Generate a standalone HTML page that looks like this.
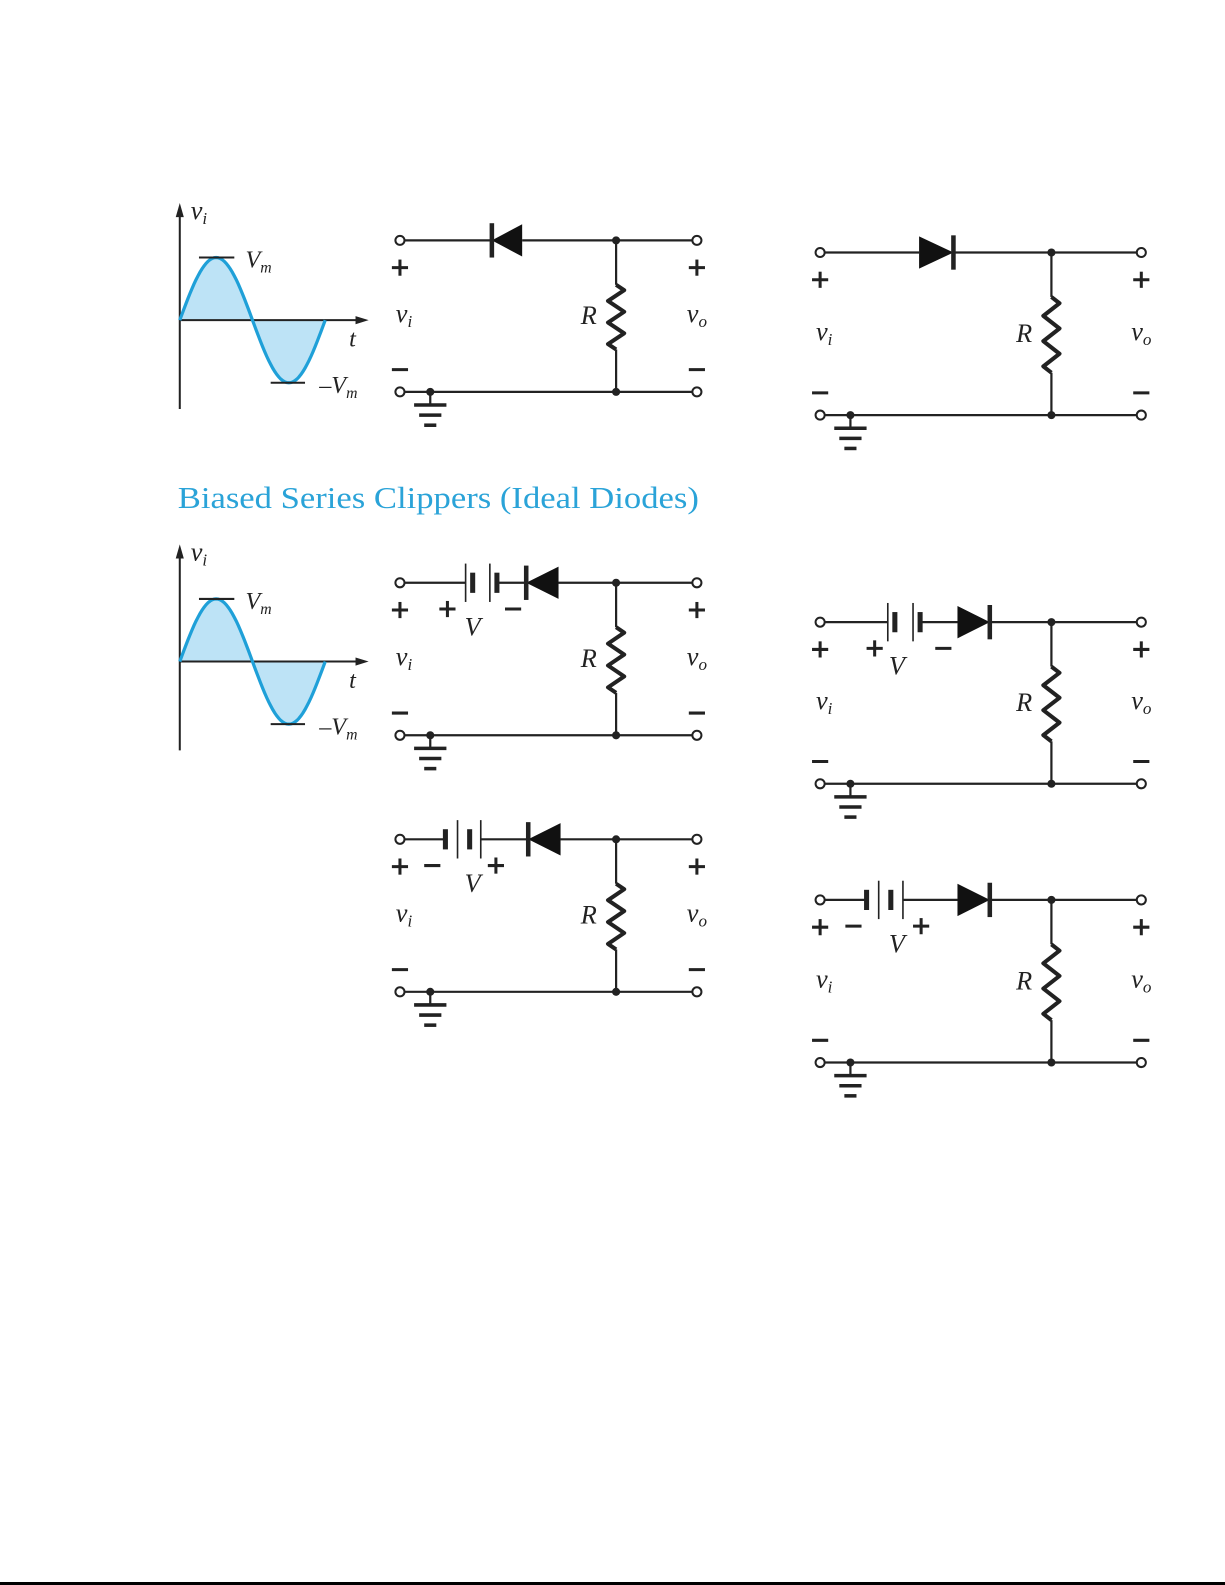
<!DOCTYPE html>
<html><head><meta charset="utf-8">
<style>
html,body{margin:0;padding:0;background:#fff;width:1225px;height:1585px;overflow:hidden}
svg{display:block}
text{font-family:"Liberation Serif",serif;fill:#222}
.it{font-style:italic}
</style></head>
<body>
<svg id="s" width="1225" height="1585" viewBox="0 0 1225 1585" xmlns="http://www.w3.org/2000/svg">
<rect x="0" y="1582" width="1225" height="3" fill="#000"/>
<g id="g" transform="scale(1.01)">
<text x="176" y="503" font-size="30" fill="#2aa3d8" style="fill:#2aa3d8" textLength="516" lengthAdjust="spacingAndGlyphs">Biased Series Clippers (Ideal Diodes)</text>
</g>
</svg>
<script>
var g=document.getElementById('g'),NS='http://www.w3.org/2000/svg';
function el(t,a,txt){var e=document.createElementNS(NS,t);for(var k in a)e.setAttribute(k,a[k]);if(txt!=null)e.textContent=txt;g.appendChild(e);return e;}
function line(x1,y1,x2,y2,w){el('line',{x1:x1,y1:y1,x2:x2,y2:y2,stroke:'#222','stroke-width':w||2.2});}
function txt(x,y,s,size,cls,anchor){return el('text',{x:x,y:y,'font-size':size||24,'class':cls||'','text-anchor':anchor||'middle'},s);}
function pm(x,y,plus){line(x-8,y,x+8,y,3);if(plus)line(x,y-8,x,y+8,3);}
function sub(x,y,main,s,size){var t=el('text',{x:x,y:y,'font-size':size||26,'class':'it','text-anchor':'middle'});
 var a=document.createElementNS(NS,'tspan');a.textContent=main;t.appendChild(a);
 var b=document.createElementNS(NS,'tspan');b.setAttribute('font-size',(size||26)*0.65);b.setAttribute('dy','5');b.textContent=s;t.appendChild(b);}
function wave(y0){
 var x0=178;
 line(x0,y0+88,x0,y0-110,2);el('polygon',{points:(x0-4)+','+(y0-102)+' '+(x0+4)+','+(y0-102)+' '+x0+','+(y0-116),fill:'#222'});
 var d='M'+x0+' '+y0;for(var i=0;i<=144;i+=2){d+=' L'+(x0+i)+' '+(y0-62*Math.sin(i/144*2*Math.PI)).toFixed(1);}
 el('path',{d:d+' Z',fill:'#bde3f6',stroke:'none'});
 line(x0,y0,358,y0,2);el('polygon',{points:'352,'+(y0-4)+' 352,'+(y0+4)+' 365,'+y0,fill:'#222'});
 el('path',{d:d,fill:'none',stroke:'#1fa0d8','stroke-width':3.2});
 line(197,y0-62,232,y0-62,2);line(268,y0+62,302,y0+62,2);
 sub(197,y0-100,'v','i',26);sub(256,y0-52,'V','m',24);sub(335,y0+72,'\u2013V','m',24);
 txt(349,y0+26,'t',24,'it');
}
function diode(x1,x2,y,right){ // x1<x2
 if(right){el('polygon',{points:x1+','+(y-16)+' '+x1+','+(y+16)+' '+x2+','+y,fill:'#111'});line(x2,y-17,x2,y+17,4.5);}
 else{el('polygon',{points:x2+','+(y-16)+' '+x2+','+(y+16)+' '+x1+','+y,fill:'#111'});line(x1,y-17,x1,y+17,4.5);}
}
function circ(L,R,N,T,B,parts){
 var M=(T+B)/2;
 el('circle',{cx:L,cy:T,r:4.5,fill:'#fff',stroke:'#222','stroke-width':2});
 el('circle',{cx:L,cy:B,r:4.5,fill:'#fff',stroke:'#222','stroke-width':2});
 el('circle',{cx:R,cy:T,r:4.5,fill:'#fff',stroke:'#222','stroke-width':2});
 el('circle',{cx:R,cy:B,r:4.5,fill:'#fff',stroke:'#222','stroke-width':2});
 line(L+4.5,B,R-4.5,B);
 // top wire segments
 var segs=parts.wires;for(var i=0;i<segs.length;i++)line(segs[i][0],T,segs[i][1],T);
 line(parts.wend,T,R-4.5,T);
 el('circle',{cx:N,cy:T,r:4,fill:'#222'});el('circle',{cx:N,cy:B,r:4,fill:'#222'});
 var r1=T+44,r2=B-42;line(N,T,N,r1);line(N,r2,N,B);
 var d='M'+N+' '+r1,n=6,h=(r2-r1)/n;for(var k=0;k<n;k++){d+=' L'+(N+(k%2?-8:8))+' '+(r1+h*(k+0.5));}d+=' L'+N+' '+r2;
 el('path',{d:d,fill:'none',stroke:'#222','stroke-width':4,'stroke-linejoin':'round'});
 diode(parts.d[0],parts.d[1],T,parts.d[2]);
 if(parts.bat){var p=parts.bat;for(var j=0;j<p.length;j++){if(p[j][1])line(p[j][0],T-10,p[j][0],T+10,5);else line(p[j][0],T-19,p[j][0],T+19,1.6);}}
 // ground
 var gx=L+30;el('circle',{cx:gx,cy:B,r:4,fill:'#222'});line(gx,B,gx,B+12,2.2);
 line(gx-16,B+13,gx+16,B+13,3.5);line(gx-11,B+23,gx+11,B+23,3.5);line(gx-6,B+33,gx+6,B+33,3.5);
 pm(L,T+27,true);pm(L,B-22,false);pm(R,T+27,true);pm(R,B-22,false);
 sub(L+4,M+6,'v','i',26);sub(R,M+6,'v','o',26);txt(N-27,M+8,'R',26,'it');
 if(parts.lab){var l=parts.lab;pm(l[0],T+26,l[3]);pm(l[2],T+26,!l[3]);txt(l[1],T+52,'V',26,'it');}
}
wave(317);wave(655);
circ(396,690,610,238,388,{wires:[[400,487]],wend:517,d:[487,517,false]});
circ(812,1130,1041,250,411,{wires:[[816,910]],wend:944,d:[910,944,true]});
circ(396,690,610,577,728,{wires:[[400,461],[492,521]],wend:553,d:[521,553,false],bat:[[461,0],[468,1],[485,0],[492,1]],lab:[443,468,508,true]});
circ(396,690,610,831,982,{wires:[[400,441],[476,523]],wend:555,d:[523,555,false],bat:[[441,1],[453,0],[465,1],[476,0]],lab:[428,468,491,false]});
circ(812,1130,1041,616,776,{wires:[[816,879],[911,948]],wend:980,d:[948,980,true],bat:[[879,0],[886,1],[904,0],[911,1]],lab:[866,888,934,true]});
circ(812,1130,1041,891,1052,{wires:[[816,858],[894,948]],wend:980,d:[948,980,true],bat:[[858,1],[870,0],[882,1],[894,0]],lab:[845,888,912,false]});
</script>
</body></html>
